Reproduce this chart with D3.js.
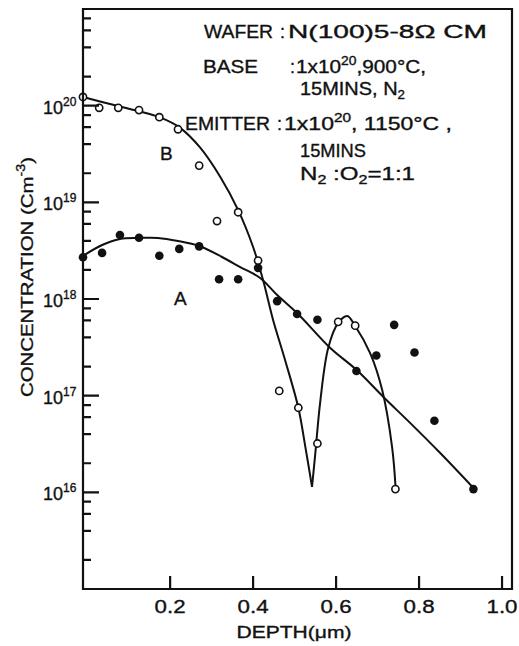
<!DOCTYPE html>
<html><head><meta charset="utf-8">
<script src="https://cdn.jsdelivr.net/npm/d3@7"></script>
<style>
html,body{margin:0;padding:0;background:#fff;}
svg text{font-family:"Liberation Sans",Arial,Helvetica,sans-serif;fill:#111;stroke:#111;stroke-width:0.35px;}
</style></head>
<body><svg id="c" width="519" height="646"></svg>
<script>
// ---- data ----
const depthA = [-0.01, 0.036, 0.079, 0.125, 0.174, 0.222, 0.270, 0.318, 0.364, 0.412, 0.458, 0.506, 0.555, 0.649, 0.697, 0.740, 0.789, 0.837, 0.931];
const concA  = [2.7e18, 3.0e18, 4.6e18, 4.3e18, 2.8e18, 3.3e18, 3.5e18, 1.6e18, 1.6e18, 2.1e18, 9.5e17, 7.0e17, 6.1e17, 1.8e17, 2.6e17, 5.4e17, 2.8e17, 5.5e16, 1.08e16];
const depthB = [-0.01, 0.029, 0.075, 0.125, 0.174, 0.219, 0.270, 0.313, 0.364, 0.412, 0.463, 0.509, 0.555, 0.605, 0.646, 0.743];
const concB  = [1.23e20, 9.5e19, 9.5e19, 9.0e19, 7.6e19, 5.7e19, 2.4e19, 6.4e18, 7.9e18, 2.5e18, 1.12e17, 7.5e16, 3.2e16, 5.8e17, 5.3e17, 1.08e16];

// drawn fit curves
const fitADepth = [-0.01, 0.036, 0.079, 0.125, 0.171, 0.219, 0.270, 0.325, 0.369, 0.417, 0.458, 0.506, 0.586, 0.649, 0.714, 0.779, 0.851, 0.931];
const fitAConc  = [2.79e18, 3.62e18, 4.18e18, 4.28e18, 4.28e18, 3.98e18, 3.53e18, 2.72e18, 2.14e18, 1.65e18, 1.10e18, 7.16e17, 3.11e17, 1.85e17, 9.7e16, 5.2e16, 2.55e16, 1.11e16];
const fitB1Depth = [-0.01, 0.055, 0.123, 0.174, 0.224, 0.272, 0.321, 0.364, 0.400, 0.424, 0.448, 0.477, 0.509, 0.526, 0.542];
const fitB1Conc  = [1.23e20, 1.04e20, 8.8e19, 7.6e19, 5.9e19, 3.7e19, 1.83e19, 8.3e18, 3.45e18, 1.57e18, 6.1e17, 2.34e17, 7.5e16, 2.94e16, 1.14e16];
const fitB2Depth = [0.542, 0.550, 0.562, 0.581, 0.605, 0.627, 0.646, 0.682, 0.711, 0.735, 0.743];
const fitB2Conc  = [1.14e16, 2.55e16, 8.8e16, 3.11e17, 5.65e17, 6.67e17, 5.26e17, 2.76e17, 1.15e17, 2.94e16, 1.19e16];

const xTicks = [0.2, 0.4, 0.6, 0.8, 1.0];
const xTickLabels = ["0.2", "0.4", "0.6", "0.8", "1.0"];
const yMajor = [1e16, 1e17, 1e18, 1e19, 1e20];
const yMajorExp = ["16", "17", "18", "19", "20"];
const yMinorMult = [2, 4, 6, 8];
const seriesLabels = ["A", "B"];

// ---- scales ----
const L = 83, R = 512, T = 9, B = 589;
const x = d3.scaleLinear().domain([-0.01, 1.024]).range([L, R]);
const y = d3.scaleLog().domain([1e15, 1e21]).range([B, T]);

const svg = d3.select("#c");
const ink = "#111";

const yMinor = [];
for (let e = 15; e < 21; e++) yMinorMult.forEach(m => yMinor.push(m * Math.pow(10, e)));

svg.append("g").selectAll("text").data(xTicks).join("text")
  .attr("x", d => x(d)).attr("y", 613).attr("text-anchor", "middle").attr("font-size", 18)
  .attr("textLength", 31).attr("lengthAdjust", "spacingAndGlyphs")
  .text((d, i) => xTickLabels[i]);

// y tick labels with superscripts
const yl = svg.append("g").selectAll("text").data(yMajor).join("text")
  .attr("x", 43).attr("y", d => y(d) + 8).attr("font-size", 18);
yl.append("tspan").text("10");
yl.append("tspan").attr("font-size", 12).attr("dy", -8).text((d, i) => yMajorExp[i]);

// axis titles
svg.append("text").attr("x", 294).attr("y", 638).attr("text-anchor", "middle")
  .attr("font-size", 17).attr("textLength", 115).attr("lengthAdjust", "spacingAndGlyphs")
  .text("DEPTH(μm)");
const yt = svg.append("text").attr("transform", "translate(33,277) rotate(-90)")
  .attr("text-anchor", "middle").attr("font-size", 17)
  .attr("textLength", 240).attr("lengthAdjust", "spacingAndGlyphs");
yt.append("tspan").text("CONCENTRATION (Cm");
yt.append("tspan").attr("font-size", 12).attr("dy", -8).text("-3");
yt.append("tspan").attr("dy", 8).text(")");

// curves
const line = d3.line().x(d => x(d[0])).y(d => y(d[1])).curve(d3.curveCatmullRom.alpha(0.5));
const zip = (a, b) => a.map((v, i) => [v, b[i]]);
[[fitADepth, fitAConc], [fitB1Depth, fitB1Conc], [fitB2Depth, fitB2Conc]].forEach(([dx, dy]) => {
  svg.append("path").attr("d", line(zip(dx, dy))).attr("fill", "none")
    .attr("stroke", ink).attr("stroke-width", 2);
});

// points
svg.append("g").selectAll("circle").data(zip(depthA, concA)).join("circle")
  .attr("cx", d => x(d[0])).attr("cy", d => y(d[1])).attr("r", 4.3).attr("fill", ink);
svg.append("g").selectAll("circle").data(zip(depthB, concB)).join("circle")
  .attr("cx", d => x(d[0])).attr("cy", d => y(d[1])).attr("r", 3.6)
  .attr("fill", "#fff").attr("stroke", ink).attr("stroke-width", 1.6);

// series labels
svg.append("text").attr("x", 174).attr("y", 305).attr("font-size", 19).text(seriesLabels[0]);
svg.append("text").attr("x", 160).attr("y", 160).attr("font-size", 19).text(seriesLabels[1]);

// annotation block
function rich(xp, yp, segs, len) {
  const t = svg.append("text").attr("x", xp).attr("y", yp).attr("font-size", 18);
  if (len) t.attr("textLength", len).attr("lengthAdjust", "spacingAndGlyphs");
  let shift = 0;
  segs.forEach(s => {
    const target = s.sup ? -8 : s.sub ? 4 : 0;
    t.append("tspan").attr("dy", target - shift).attr("font-size", (s.sup || s.sub) ? 12 : 18)
      .text(s.t);
    shift = target;
  });
  return t;
}
rich(204, 38, [{t: "WAFER"}], 69);
rich(280, 38, [{t: ":"}]);
rich(288, 38, [{t: "N(100)5-8Ω CM"}], 199);
rich(203, 73, [{t: "BASE"}], 55);
rich(290, 73, [{t: ":"}]);
rich(296, 73, [{t: "1x10"}, {t: "20", sup: 1}, {t: ",900°C,"}], 130);
rich(300, 95, [{t: "15MINS, N"}, {t: "2", sub: 1}], 105);
rich(185, 130, [{t: "EMITTER"}], 85);
rich(277, 130, [{t: ":"}]);
rich(284, 130, [{t: "1x10"}, {t: "20", sup: 1}, {t: ", 1150°C ,"}], 168);
rich(300, 157, [{t: "15MINS"}], 66);
rich(300, 180, [{t: "N"}, {t: "2", sub: 1}, {t: " :O"}, {t: "2", sub: 1}, {t: "=1:1"}], 115);

// frame and all ticks as a single path, drawn last so nothing covers it
const p = d3.path();
p.rect(L, T, R - L, B - T);
yMajor.forEach(v => { p.moveTo(L, y(v)); p.lineTo(L + 16, y(v)); });
yMinor.forEach(v => { p.moveTo(L, y(v)); p.lineTo(L + 8, y(v)); });
xTicks.forEach(v => { p.moveTo(x(v), B); p.lineTo(x(v), B - 13); });
svg.append("path").attr("d", p.toString()).attr("fill", "none")
  .attr("stroke", ink).attr("stroke-width", 2.2);
</script></body></html>
